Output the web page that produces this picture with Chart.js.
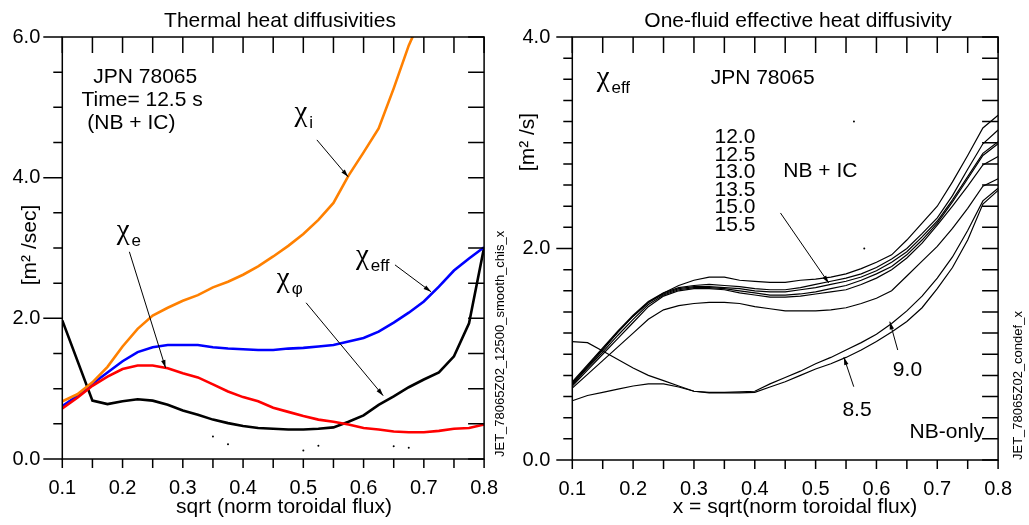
<!DOCTYPE html>
<html>
<head>
<meta charset="utf-8">
<script src="https://cdn.jsdelivr.net/npm/chart.js@4.4.0/dist/chart.umd.min.js"></script>
<style>
    html, body { margin: 0; padding: 0; background: #fff; }
    #wrap { position: relative; width: 1029px; height: 525px; overflow: hidden; }
    canvas { position: absolute; top: 0; }
    #left { left: 0; }
    #right { left: 515px; }
</style>
</head>
<body>
<div id="wrap">
    <canvas id="left" width="515" height="525"></canvas>
    <canvas id="right" width="514" height="525"></canvas>
</div>
<script>
const FAMILY = "'Liberation Sans', Arial, Helvetica, sans-serif"
const GREEK = "'Liberation Serif', 'DejaVu Serif', serif"

//
// Data
//

// sqrt(norm toroidal flux) grid shared by every profile
const rho = [
    0.1, 0.125, 0.15, 0.175, 0.2, 0.225, 0.25, 0.275, 0.3, 0.325,
    0.35, 0.375, 0.4, 0.425, 0.45, 0.475, 0.5, 0.525, 0.55, 0.575,
    0.6, 0.625, 0.65, 0.675, 0.7, 0.725, 0.75, 0.775, 0.8,
]

// left panel: thermal diffusivities at 12.5 s (m^2/s)
const chiI = [0.82, 0.92, 1.09, 1.31, 1.60, 1.85, 2.04, 2.15, 2.25, 2.33, 2.44, 2.52, 2.62, 2.74, 2.88, 3.03, 3.20, 3.40, 3.64, 4.03, 4.36, 4.70, 5.27, 5.88, 6.36, null, null, null, null]
const chiEffL = [0.75, 0.90, 1.07, 1.23, 1.39, 1.52, 1.59, 1.62, 1.62, 1.62, 1.59, 1.57, 1.56, 1.55, 1.55, 1.57, 1.58, 1.60, 1.62, 1.67, 1.72, 1.81, 1.94, 2.08, 2.24, 2.45, 2.68, 2.85, 3.01]
const chiE = [0.72, 0.87, 1.04, 1.17, 1.28, 1.33, 1.33, 1.29, 1.22, 1.16, 1.06, 0.96, 0.88, 0.82, 0.73, 0.67, 0.61, 0.56, 0.53, 0.49, 0.44, 0.42, 0.39, 0.38, 0.38, 0.40, 0.43, 0.44, 0.49]
const chiPhi = [1.97, null, 0.83, 0.78, 0.82, 0.85, 0.83, 0.77, 0.69, 0.63, 0.56, 0.51, 0.47, 0.44, 0.43, 0.42, 0.42, 0.43, 0.45, 0.53, 0.62, 0.77, 0.89, 1.02, 1.13, 1.23, 1.46, 1.93, 3.01]
const strayLx = [0.35, 0.375, 0.5, 0.525, 0.65, 0.675]
const strayLy = [0.32, 0.21, 0.12, 0.19, 0.18, 0.16]

// right panel: one-fluid chi_eff at several times (s)
const eff120 = [0.72, 0.88, 1.04, 1.21, 1.36, 1.49, 1.58, 1.65, 1.70, 1.73, 1.73, 1.70, 1.69, 1.68, 1.68, 1.70, 1.71, 1.73, 1.76, 1.81, 1.87, 1.94, 2.08, 2.24, 2.40, 2.63, 2.88, 3.14, 3.26]
const eff125 = [0.74, 0.90, 1.06, 1.22, 1.37, 1.50, 1.58, 1.63, 1.65, 1.66, 1.65, 1.64, 1.62, 1.61, 1.61, 1.63, 1.66, 1.69, 1.72, 1.76, 1.82, 1.90, 2.00, 2.14, 2.29, 2.50, 2.75, 2.99, 3.12]
const eff130 = [0.73, 0.89, 1.05, 1.21, 1.36, 1.49, 1.57, 1.62, 1.64, 1.64, 1.63, 1.62, 1.60, 1.59, 1.59, 1.61, 1.63, 1.66, 1.69, 1.73, 1.79, 1.87, 1.97, 2.11, 2.26, 2.46, 2.68, 2.90, 3.01]
const eff135 = [0.71, 0.87, 1.02, 1.18, 1.33, 1.47, 1.56, 1.61, 1.63, 1.63, 1.62, 1.60, 1.58, 1.56, 1.56, 1.57, 1.59, 1.62, 1.65, 1.70, 1.76, 1.83, 1.94, 2.08, 2.24, 2.44, 2.66, 2.88, 2.99]
const eff150 = [0.70, 0.85, 1.00, 1.15, 1.30, 1.45, 1.55, 1.60, 1.62, 1.62, 1.61, 1.58, 1.56, 1.54, 1.54, 1.55, 1.57, 1.59, 1.61, 1.66, 1.72, 1.80, 1.91, 2.05, 2.22, 2.40, 2.59, 2.79, 2.87]
const eff155 = [0.68, 0.81, 0.94, 1.07, 1.20, 1.33, 1.42, 1.46, 1.48, 1.49, 1.49, 1.48, 1.45, 1.43, 1.41, 1.41, 1.41, 1.42, 1.44, 1.48, 1.53, 1.60, 1.74, 1.88, 2.02, 2.19, 2.38, 2.59, 2.66]
const eff090 = [1.12, 1.11, 1.03, 0.95, 0.87, 0.80, 0.75, 0.70, 0.65, 0.64, 0.64, 0.645, 0.65, 0.72, 0.78, 0.84, 0.91, 0.97, 1.04, 1.11, 1.19, 1.29, 1.41, 1.55, 1.72, 1.92, 2.17, 2.45, 2.57]
const eff085 = [0.56, 0.61, 0.64, 0.67, 0.70, 0.72, 0.72, 0.69, 0.65, 0.635, 0.635, 0.635, 0.64, 0.69, 0.74, 0.80, 0.86, 0.91, 0.97, 1.04, 1.12, 1.21, 1.31, 1.44, 1.62, 1.82, 2.08, 2.42, 2.55]
const strayRx = [0.563, 0.58]
const strayRy = [3.20, 2.00]

const timesIC = ['12.0', '12.5', '13.0', '13.5', '15.0', '15.5']

//
// Annotations (data coordinates of each panel)
//

const leftDecor = {
    texts: [
        { text: 'JPN 78065', x: 0.1514, y: 5.43 },
        { text: 'Time= 12.5 s', x: 0.1319, y: 5.105 },
        { text: '(NB + IC)', x: 0.1416, y: 4.78 },
    ],
    chis: [
        { sub: 'i', x: 0.4852, y: 4.80 },
        { sub: 'e', x: 0.1903, y: 3.123 },
        { sub: 'eff', x: 0.5873, y: 2.775 },
        { sub: '\u03c6', x: 0.4560, y: 2.441 },
    ],
    arrows: [
        [0.5225, 4.537, 0.5743, 4.012],
        [0.2113, 2.946, 0.2713, 1.297],
        [0.6521, 2.760, 0.7120, 2.377],
        [0.5046, 2.221, 0.6326, 0.900],
    ],
    majorTick: 19,
    title: { text: 'Thermal heat diffusivities', cx: 280, base: 27 },
    xTitle: { text: 'sqrt (norm toroidal flux)', cx: 284, base: 513 },
    yTitle: { text: '[m\u00b2 /sec]', cx: 30, cy: 245 },
    note: { text: 'JET_78065Z02_12500_smooth_chis_x', cx: 500, bottom: 457 },
}

const rightDecor = {
    texts: [
        { text: 'JPN 78065', x: 0.3275, y: 3.612 },
        { text: 'NB + IC', x: 0.4469, y: 2.733 },
        { text: '9.0', x: 0.627, y: 0.851 },
        { text: '8.5', x: 0.544, y: 0.473 },
        { text: 'NB-only', x: 0.6544, y: 0.265 },
        ...timesIC.map((t, i) => ({ text: t, x: 0.4009, y: [3.057, 2.884, 2.726, 2.553, 2.395, 2.222][i], align: 'right' })),
    ],
    chis: [
        { sub: 'eff', x: 0.140, y: 3.532 },
    ],
    arrows: [
        [0.4422, 2.336, 0.5215, 1.674],
        [0.635, 1.040, 0.622, 1.308],
        [0.5627, 0.693, 0.5465, 0.971],
    ],
    majorTick: 16,
    title: { text: 'One-fluid effective heat diffusivity', cx: 283, base: 27 },
    xTitle: { text: 'x = sqrt(norm toroidal flux)', cx: 280, base: 513 },
    yTitle: { text: '[m\u00b2 /s]', cx: 13, cy: 142 },
    note: { text: 'JET_78065Z02_condef_x', cx: 503, bottom: 460 },
}

//
// Helpers
//

function drawArrow (ctx, x1, y1, x2, y2) {
    ctx.beginPath()
    ctx.moveTo(x1, y1)
    ctx.lineTo(x2, y2)
    ctx.stroke()
    const a = Math.atan2(y2 - y1, x2 - x1)
    const len = 8
    const w = 0.28
    ctx.beginPath()
    ctx.moveTo(x2, y2)
    ctx.lineTo(x2 - len * Math.cos(a - w), y2 - len * Math.sin(a - w))
    ctx.lineTo(x2 - len * Math.cos(a + w), y2 - len * Math.sin(a + w))
    ctx.closePath()
    ctx.fill()
}

function makeDecor (name, spec) {
    return {
        id: 'decor_' + name,
        afterDraw (chart) {
            const { ctx, chartArea: a, scales: { x, y } } = chart
            const X = (v) => x.getPixelForValue(v)
            const Y = (v) => y.getPixelForValue(v)
            ctx.save()
            ctx.strokeStyle = '#000'
            ctx.fillStyle = '#000'

            // frame and tick marks
            ctx.lineWidth = 1.5
            ctx.strokeRect(a.left, a.top, a.right - a.left, a.bottom - a.top)
            ctx.beginPath()
            for (const t of x.ticks) {
                const px = X(t.value)
                ctx.moveTo(px, a.top)
                ctx.lineTo(px, a.top + 16)
                ctx.moveTo(px, a.bottom)
                ctx.lineTo(px, a.bottom + 9)
            }
            for (const t of y.ticks) {
                const py = Y(t.value)
                ctx.moveTo(a.right, py)
                ctx.lineTo(a.right - 16, py)
                ctx.moveTo(a.left, py)
                ctx.lineTo(a.left - (t.label ? spec.majorTick : 9), py)
            }
            ctx.stroke()

            // plain labels
            ctx.font = `21px ${FAMILY}`
            ctx.textBaseline = 'middle'
            for (const t of spec.texts) {
                ctx.textAlign = t.align || 'left'
                ctx.fillText(t.text, X(t.x), Y(t.y))
            }

            // chi labels with subscripts
            ctx.textAlign = 'left'
            ctx.textBaseline = 'alphabetic'
            for (const c of spec.chis) {
                const px = X(c.x)
                const py = Y(c.y)
                ctx.font = `29px ${GREEK}`
                ctx.fillText('\u03c7', px, py)
                const w = ctx.measureText('\u03c7').width
                ctx.font = `17px ${FAMILY}`
                ctx.fillText(c.sub, px + w + 2, py + 7)
            }

            // arrows
            ctx.lineWidth = 1
            for (const r of spec.arrows) {
                drawArrow(ctx, X(r[0]), Y(r[1]), X(r[2]), Y(r[3]))
            }

            // titles
            ctx.font = `21px ${FAMILY}`
            ctx.textAlign = 'center'
            ctx.fillText(spec.title.text, spec.title.cx, spec.title.base)
            ctx.fillText(spec.xTitle.text, spec.xTitle.cx, spec.xTitle.base)

            ctx.save()
            ctx.translate(spec.yTitle.cx, spec.yTitle.cy)
            ctx.rotate(-Math.PI / 2)
            ctx.textBaseline = 'middle'
            ctx.fillText(spec.yTitle.text, 0, 0)
            ctx.restore()

            ctx.save()
            ctx.translate(spec.note.cx, spec.note.bottom)
            ctx.rotate(-Math.PI / 2)
            ctx.font = `13px ${FAMILY}`
            ctx.textAlign = 'left'
            ctx.textBaseline = 'middle'
            ctx.fillText(spec.note.text, 0, 0)
            ctx.restore()

            ctx.restore()
        },
    }
}

function profile (values, color, width) {
    return {
        data: rho.map((r, i) => ({ x: r, y: values[i] })),
        borderColor: color,
        borderWidth: width,
        pointRadius: 0,
        tension: 0,
        spanGaps: true,
        fill: false,
    }
}

function dots (xs, ys) {
    return {
        data: xs.map((v, i) => ({ x: v, y: ys[i] })),
        showLine: false,
        pointRadius: 1,
        pointBorderWidth: 0,
        pointBackgroundColor: '#000',
    }
}

const isMultiple = (v, step) => Math.abs(v / step - Math.round(v / step)) < 1e-6

function scales ({ ymax, ystep, ymajor, yWidth, xHeight }) {
    const tickFont = { family: FAMILY, size: 20 }
    return {
        x: {
            type: 'linear',
            min: 0.1,
            max: 0.8,
            afterFit: (s) => { s.height = xHeight },
            grid: { display: false, drawTicks: false },
            border: { display: false },
            ticks: {
                stepSize: 0.05,
                autoSkip: false,
                maxRotation: 0,
                padding: 17,
                color: '#000',
                font: tickFont,
                callback: (v) => (isMultiple(v, 0.1) ? v.toFixed(1) : ''),
            },
        },
        y: {
            type: 'linear',
            min: 0,
            max: ymax,
            afterFit: (s) => { s.width = yWidth },
            grid: { display: false, drawTicks: false },
            border: { display: false },
            ticks: {
                stepSize: ystep,
                autoSkip: false,
                padding: 22,
                color: '#000',
                font: tickFont,
                callback: (v) => (isMultiple(v, ymajor) ? v.toFixed(1) : ''),
            },
        },
    }
}

const common = {
    responsive: false,
    animation: false,
    events: [],
    plugins: { legend: { display: false }, tooltip: { enabled: false } },
}

//
// Left panel
//

new Chart(document.getElementById('left').getContext('2d'), {
    type: 'line',
    data: {
        datasets: [
            profile(chiE, 'rgb(255, 0, 0)', 2.6),
            profile(chiI, 'rgb(255, 128, 0)', 2.6),
            profile(chiEffL, 'rgb(0, 0, 255)', 2.6),
            profile(chiPhi, 'rgb(0, 0, 0)', 2.6),
            dots(strayLx, strayLy),
        ],
    },
    options: {
        ...common,
        layout: { padding: { left: 0, top: 37, right: 20.7, bottom: 0 } },
        scales: scales({ ymax: 6, ystep: 0.5, ymajor: 2, yWidth: 62.3, xHeight: 66 }),
    },
    plugins: [ makeDecor('left', leftDecor) ],
})

//
// Right panel
//

new Chart(document.getElementById('right').getContext('2d'), {
    type: 'line',
    data: {
        datasets: [
            profile(eff120, '#000', 1.2),
            profile(eff125, '#000', 1.2),
            profile(eff130, '#000', 1.2),
            profile(eff135, '#000', 1.2),
            profile(eff150, '#000', 1.2),
            profile(eff155, '#000', 1.2),
            profile(eff090, '#000', 1.2),
            profile(eff085, '#000', 1.2),
            dots(strayRx, strayRy),
        ],
    },
    options: {
        ...common,
        layout: { padding: { left: 0, top: 37, right: 24, bottom: 0 } },
        scales: scales({ ymax: 4, ystep: 0.2, ymajor: 2, yWidth: 57.3, xHeight: 65 }),
    },
    plugins: [ makeDecor('right', rightDecor) ],
})
</script>
</body>
</html>
